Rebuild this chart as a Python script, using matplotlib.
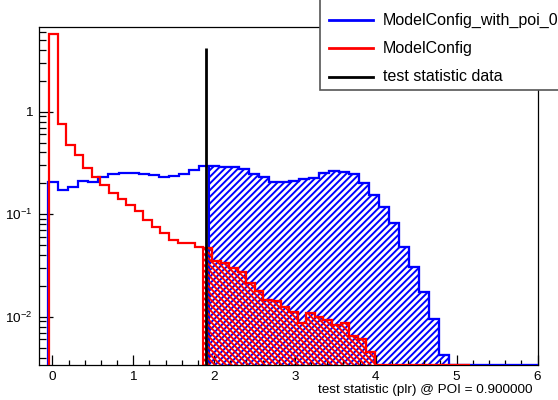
"""Toy-MC test statistic distributions (ROOT style), log y."""
import matplotlib
matplotlib.use("Agg")
import matplotlib.pyplot as plt
import numpy as np
from matplotlib.lines import Line2D
from matplotlib.patches import Rectangle
from matplotlib.ticker import FixedLocator, LogLocator, MultipleLocator, NullFormatter

plt.rcParams.update({
    "font.family": ["Liberation Sans", "DejaVu Sans"],
    "mathtext.fontset": "custom",
    "mathtext.rm": "Liberation Sans",
    "mathtext.it": "Liberation Sans",
    "mathtext.bf": "Liberation Sans",
    "hatch.linewidth": 1.4,
})
BLUE, RED, BLACK = "#0000ff", "#ff0000", "#000000"

# binning
poi_lo, poi_width, poi_nbins = -0.0495, 0.124, 49
null_lo, null_width, null_nbins = -0.042, 0.1061, 49

# ModelConfig_with_poi_0 (blue)
poi_vals = [0.206, 0.173, 0.183, 0.212, 0.207, 0.230, 0.246, 0.254, 0.251, 0.249,
            0.243, 0.231, 0.236, 0.246, 0.270, 0.297, 0.297, 0.291, 0.288, 0.276,
            0.246, 0.232, 0.208, 0.207, 0.212, 0.219, 0.227, 0.251, 0.264, 0.256,
            0.245, 0.200, 0.155, 0.118, 0.0815, 0.0475, 0.0308, 0.0175, 0.0096, 0.0042,
            0, 0, 0, 0, 0, 0, 0, 0, 0]
# ModelConfig (red)
null_vals = [5.73, 0.75, 0.473, 0.378, 0.284, 0.230, 0.193, 0.160, 0.140, 0.123,
             0.107, 0.088, 0.0745, 0.0651, 0.0560, 0.052, 0.052, 0.0482, 0.0465, 0.0352,
             0.0332, 0.0297, 0.0275, 0.0212, 0.0178, 0.0146, 0.0143, 0.0125, 0.0112, 0.0086,
             0.0108, 0.0099, 0.0093, 0.0083, 0.0086, 0.0065, 0.0060, 0.0045,
             0, 0, 0, 0, 0, 0, 0, 0, 0, 0, 0]
t_data = 1.905
t_data_height = 4.15

x_range = (-0.165, 6.0)
y_range = (0.00338, 6.7)
x_ticks = [0, 1, 2, 3, 4, 5, 6]
y_ticks = [0.01, 0.1, 1]
y_ticklabels = [r"$10^{-2}$", r"$10^{-1}$", "1"]
legend_labels = ["ModelConfig_with_poi_0", "ModelConfig", "test statistic data"]
x_title = "test statistic (plr) @ POI = 0.900000"


def hist(ax, vals, lo, width, nbins, color, hatch, z):
    edges = lo + width * np.arange(nbins + 1)
    v = np.asarray(vals, float)
    v = np.where(v > 0, v, y_range[0])          # empty bins sit on the frame
    centers = 0.5 * (edges[:-1] + edges[1:])
    sel = centers > t_data
    first = int(np.argmax(sel))
    ax.stairs(v[sel], edges[first:], fill=True, hatch=hatch, facecolor="none",
              edgecolor=color, lw=1.5, baseline=1e-5, zorder=z)
    ax.stairs(v, edges, color=color, lw=1.6, baseline=1e-5, zorder=z + 2)


fig = plt.figure(figsize=(5.58, 4.0), dpi=100)
ax = fig.add_axes([39 / 558, 35 / 400, 498.5 / 558, 338 / 400])

hist(ax, poi_vals, poi_lo, poi_width, poi_nbins, BLUE, "/////", 1)
hist(ax, null_vals, null_lo, null_width, null_nbins, RED, "\\\\\\\\\\\\", 2)
ax.vlines(t_data, 1e-5, t_data_height, color=BLACK, lw=2.0, zorder=6)

ax.set_yscale("log")
ax.set_xlim(*x_range); ax.set_ylim(*y_range)
ax.xaxis.set_major_locator(FixedLocator(x_ticks))
ax.xaxis.set_minor_locator(MultipleLocator(0.2))
ax.yaxis.set_major_locator(FixedLocator(y_ticks))
ax.set_yticklabels(y_ticklabels)
ax.yaxis.set_minor_locator(LogLocator(base=10, subs=range(2, 10), numticks=20))
ax.yaxis.set_minor_formatter(NullFormatter())
ax.tick_params(which="both", direction="in", top=False, right=False,
               labelsize=9.7, width=0.9)
ax.tick_params(axis="x", which="major", length=7.2, pad=4)
ax.tick_params(axis="x", which="minor", length=3.6)
ax.tick_params(axis="y", which="major", length=10, pad=5)
ax.tick_params(axis="y", which="minor", length=5)
for sp in ax.spines.values():
    sp.set_linewidth(0.9)

fig.text(533 / 558, 1 - 390 / 400, x_title, ha="right", va="center", fontsize=9.7)

# legend box, hanging off the top-right corner like the ROOT TLegend
fig.patches.append(Rectangle((320 / 558, 1 - 90 / 400), 0.6, 0.3, transform=fig.transFigure,
                             facecolor="white", edgecolor="#555555", lw=1.2, zorder=10))
for i, (lab, col) in enumerate(zip(legend_labels, [BLUE, RED, BLACK])):
    yy = 1 - (20 + 28.3 * i) / 400
    fig.lines.append(Line2D([329 / 558, 373 / 558], [yy, yy], color=col, lw=2,
                            transform=fig.transFigure, zorder=11))
    fig.text(382.7 / 558, yy, lab, va="center", ha="left", fontsize=11.5, zorder=12)

fig.savefig("out.png", dpi=100)
